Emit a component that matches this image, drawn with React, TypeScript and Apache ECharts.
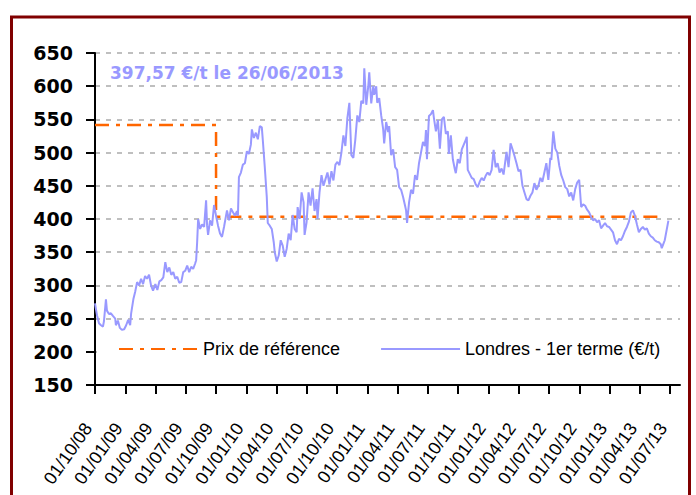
import React, { useEffect, useRef } from "react";
import * as echarts from "echarts";

const titleText = "397,57 €/t le 26/06/2013";
const seriesNames = ["Prix de référence", "Londres - 1er terme (€/t)"];

const axisStart = "2008-10-01";
const axisEnd = "2013-07-31";

const tickDates = [
  "2008-10-01", "2009-01-01", "2009-04-01", "2009-07-01", "2009-10-01",
  "2010-01-01", "2010-04-01", "2010-07-01", "2010-10-01", "2011-01-01",
  "2011-04-01", "2011-07-01", "2011-10-01", "2012-01-01", "2012-04-01",
  "2012-07-01", "2012-10-01", "2013-01-01", "2013-04-01", "2013-07-01",
];

const refDates = ["2008-10-01", "2009-10-01", "2009-10-01", "2013-06-09"];
const refValues = [541.5, 541.5, 403.5, 403.5];

const dates = [
  "2008-10-01","2008-10-07","2008-10-13","2008-10-19","2008-10-25","2008-10-28","2008-11-03","2008-11-06","2008-11-12","2008-11-18",
  "2008-11-24","2008-12-01","2008-12-03","2008-12-09","2008-12-15","2008-12-21","2008-12-28","2009-01-03","2009-01-09","2009-01-15",
  "2009-01-18","2009-01-25","2009-01-30","2009-02-05","2009-02-11","2009-02-17","2009-02-23","2009-03-01","2009-03-07","2009-03-13",
  "2009-03-19","2009-03-25","2009-04-01","2009-04-07","2009-04-13","2009-04-19","2009-04-25","2009-05-01","2009-05-07","2009-05-13",
  "2009-05-19","2009-05-25","2009-05-31","2009-06-06","2009-06-12","2009-06-18","2009-06-24","2009-06-30","2009-07-06","2009-07-12",
  "2009-07-18","2009-07-24","2009-07-30","2009-08-02","2009-08-05","2009-08-08","2009-08-14","2009-08-20","2009-08-26","2009-09-01",
  "2009-09-04","2009-09-07","2009-09-13","2009-09-19","2009-09-25","2009-10-01","2009-10-07","2009-10-13","2009-10-19","2009-10-25",
  "2009-11-03","2009-11-09","2009-11-15","2009-11-21","2009-11-27","2009-12-03","2009-12-06","2009-12-09","2009-12-15","2009-12-21",
  "2009-12-27","2010-01-02","2010-01-08","2010-01-14","2010-01-17","2010-01-23","2010-01-29","2010-02-04","2010-02-10","2010-02-16",
  "2010-02-19","2010-02-25","2010-03-03","2010-03-06","2010-03-12","2010-03-18","2010-03-24","2010-03-27","2010-04-02","2010-04-08",
  "2010-04-14","2010-04-20","2010-04-26","2010-05-02","2010-05-08","2010-05-14","2010-05-20","2010-05-26","2010-06-01","2010-06-04",
  "2010-06-10","2010-06-16","2010-06-22","2010-06-25","2010-07-01","2010-07-07","2010-07-13","2010-07-19","2010-07-25","2010-07-31",
  "2010-08-03","2010-08-09","2010-08-15","2010-08-21","2010-08-27","2010-09-02","2010-09-08","2010-09-14","2010-09-20","2010-09-26",
  "2010-10-02","2010-10-08","2010-10-14","2010-10-20","2010-10-26","2010-11-01","2010-11-07","2010-11-13","2010-11-19","2010-11-25",
  "2010-12-01","2010-12-07","2010-12-13","2010-12-19","2010-12-22","2010-12-28","2011-01-03","2011-01-06","2011-01-12","2011-01-18",
  "2011-01-21","2011-01-27","2011-01-30","2011-02-05","2011-02-11","2011-02-17","2011-02-20","2011-02-26","2011-03-04","2011-03-07",
  "2011-03-13","2011-03-19","2011-03-25","2011-03-31","2011-04-06","2011-04-12","2011-04-18","2011-04-24","2011-04-27","2011-04-30",
  "2011-05-06","2011-05-12","2011-05-18","2011-05-24","2011-05-30","2011-06-05","2011-06-11","2011-06-17","2011-06-23","2011-06-26",
  "2011-06-29","2011-07-05","2011-07-11","2011-07-17","2011-07-20","2011-07-26","2011-08-01","2011-08-07","2011-08-13","2011-08-19",
  "2011-08-25","2011-08-31","2011-09-03","2011-09-09","2011-09-15","2011-09-21","2011-09-24","2011-09-30","2011-10-06","2011-10-12",
  "2011-10-18","2011-10-24","2011-10-27","2011-10-30","2011-11-05","2011-11-11","2011-11-17","2011-11-23","2011-11-29","2011-12-05",
  "2011-12-11","2011-12-17","2011-12-23","2011-12-29","2012-01-04","2012-01-10","2012-01-16","2012-01-22","2012-01-28","2012-02-03",
  "2012-02-09","2012-02-15","2012-02-21","2012-02-24","2012-03-01","2012-03-07","2012-03-13","2012-03-19","2012-03-25","2012-03-31",
  "2012-04-06","2012-04-12","2012-04-18","2012-04-24","2012-04-30","2012-05-06","2012-05-12","2012-05-18","2012-05-24","2012-05-30",
  "2012-06-05","2012-06-11","2012-06-17","2012-06-23","2012-06-29","2012-07-05","2012-07-08","2012-07-14","2012-07-20","2012-07-26",
  "2012-08-01","2012-08-07","2012-08-13","2012-08-19","2012-08-25","2012-08-31","2012-09-06","2012-09-12","2012-09-18","2012-09-24",
  "2012-09-30","2012-10-06","2012-10-12","2012-10-18","2012-10-24","2012-10-30","2012-11-05","2012-11-11","2012-11-17","2012-11-23",
  "2012-11-29","2012-12-05","2012-12-11","2012-12-17","2012-12-23","2012-12-29","2013-01-04","2013-01-10","2013-01-16","2013-01-22",
  "2013-01-28","2013-02-03","2013-02-09","2013-02-15","2013-02-21","2013-02-27","2013-03-05","2013-03-11","2013-03-17","2013-03-23",
  "2013-03-29","2013-04-04","2013-04-10","2013-04-16","2013-04-22","2013-04-28","2013-05-04","2013-05-10","2013-05-16","2013-05-22",
  "2013-05-28","2013-06-03","2013-06-06","2013-06-12","2013-06-15","2013-06-26",
];

const prices = [
  273,255,243,240,238,246,279,262,257,258,
  254,250,240,247,236,233,234,240,248,240,
  258,280,290,305,300,310,302,314,310,316,
  300,292,302,293,306,308,312,335,320,327,
  316,320,310,313,304,305,320,322,330,320,
  328,325,333,338,365,400,385,392,388,428,
  390,376,398,390,421,405,390,378,373,388,
  413,398,416,410,405,412,405,463,470,482,
  484,502,498,512,535,522,530,520,540,538,
  519,478,433,394,390,385,365,350,336,345,
  368,360,343,355,378,368,406,385,380,418,
  400,440,425,376,395,440,420,446,412,430,
  400,440,466,450,460,470,452,472,458,482,
  486,481,500,526,510,552,575,496,492,520,
  556,546,578,574,627,572,600,621,574,600,
  587,600,575,582,556,535,514,546,531,540,
  496,505,478,474,448,444,433,420,413,394,
  425,444,438,466,459,484,500,516,510,534,
  490,555,558,564,552,532,549,506,550,554,
  528,532,498,526,490,475,469,490,484,505,
  512,519,524,474,468,462,460,452,448,456,
  462,458,465,470,466,474,504,478,484,470,
  476,467,490,501,478,514,505,495,484,472,
  474,450,440,430,428,435,440,454,444,450,
  462,456,470,484,459,492,489,532,506,500,
  480,466,458,448,445,434,440,428,445,455,
  459,418,422,420,414,410,403,398,400,395,
  398,386,390,394,389,388,384,380,368,362,
  370,368,374,382,388,396,410,413,405,392,
  380,385,388,384,386,378,374,372,368,366,
  365,362,356,364,368,397.57,
];

const yMin = 150;
const yMax = 650;
const yStep = 50;

const DAY = 86400000;
function toUTC(s: string) {
  const [y, m, d] = s.split("-").map(Number);
  return Date.UTC(y, m - 1, d);
}
const origin = toUTC(axisStart);
function dayIndex(s: string) {
  return Math.round((toUTC(s) - origin) / DAY);
}
function pad(n: number) {
  return n < 10 ? "0" + n : "" + n;
}
function dayLabel(v: number) {
  const d = new Date(origin + Math.round(v) * DAY);
  return pad(d.getUTCDate()) + "/" + pad(d.getUTCMonth() + 1) + "/" + pad(d.getUTCFullYear() % 100);
}

export default function App() {
  const ref = useRef<HTMLDivElement>(null);
  useEffect(() => {
    document.body.style.margin = "0";
    const chart = echarts.init(ref.current!, null, { renderer: "svg" });
    const sans = "'Liberation Sans', Arial, sans-serif";
    const ticks = tickDates.map(dayIndex);
    chart.setOption({
      animation: false,
      backgroundColor: "#ffffff",
      title: {
        text: titleText,
        left: 110,
        top: 64,
        padding: 0,
        textStyle: {
          fontFamily: "'DejaVu Sans', sans-serif",
          fontWeight: "bold",
          fontSize: 17,
          color: "#9999ff",
        },
      },
      grid: { left: 95, right: 16, top: 53, bottom: 110 },
      legend: {
        data: seriesNames,
        left: 118,
        top: 340,
        padding: 0,
        width: 570,
        itemWidth: 79,
        itemHeight: 14,
        itemGap: 40,
        itemStyle: { opacity: 0 },
        textStyle: { fontFamily: sans, fontSize: 18, color: "#000" },
        z: 6,
      },
      xAxis: {
        type: "value",
        min: 0,
        max: dayIndex(axisEnd),
        axisLine: { lineStyle: { color: "#000", width: 2 } },
        axisTick: {
          show: true,
          length: 9,
          lineStyle: { color: "#000", width: 2 },
          customValues: ticks,
        },
        axisLabel: {
          customValues: ticks,
          rotate: 55,
          margin: 30,
          padding: [0, 12, 0, 0],
          fontFamily: sans,
          fontSize: 18,
          color: "#000",
          hideOverlap: false,
          showMinLabel: true,
          formatter: (v: number) => dayLabel(v),
        },
        splitLine: { show: false },
      },
      yAxis: {
        type: "value",
        min: yMin,
        max: yMax,
        interval: yStep,
        axisLine: { show: true, lineStyle: { color: "#000", width: 2 } },
        axisTick: { show: true, length: 9, lineStyle: { color: "#000", width: 2 } },
        axisLabel: {
          margin: 22,
          fontFamily: "'DejaVu Sans', sans-serif",
          fontWeight: "bold",
          fontSize: 19,
          color: "#000",
        },
        splitLine: {
          show: true,
          lineStyle: { color: "#bfbfbf", width: 2, type: [5, 6] },
        },
      },
      graphic: [
        {
          type: "rect",
          z: 3,
          shape: { x: 97, y: 339, width: 583, height: 22 },
          style: { fill: "#ffffff" },
          silent: true,
        },
        {
          type: "rect",
          z: 10,
          shape: { x: 11.5, y: 17, width: 678, height: 520 },
          style: { fill: "none", stroke: "#800000", lineWidth: 3 },
          silent: true,
        },
      ],
      series: [
        {
          name: seriesNames[0],
          type: "line",
          showSymbol: false,
          symbol: "none",
          z: 2,
          data: refDates.map((d, i) => [dayIndex(d), refValues[i]]),
          lineStyle: { color: "#ff6600", width: 2.5, type: [14, 7, 4, 7] },
          itemStyle: { color: "#ff6600" },
        },
        {
          name: seriesNames[1],
          type: "line",
          showSymbol: false,
          symbol: "none",
          z: 2,
          data: dates.map((d, i) => [dayIndex(d), prices[i]]),
          lineStyle: { color: "#9999ff", width: 2 },
          itemStyle: { color: "#9999ff" },
        },
      ],
    });
    return () => chart.dispose();
  }, []);
  return <div ref={ref} style={{ width: 696, height: 495 }} />;
}
